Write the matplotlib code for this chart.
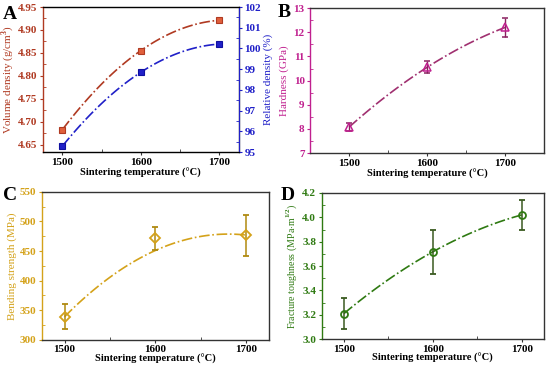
import numpy as np
import matplotlib
matplotlib.use('Agg')
import matplotlib.pyplot as plt
from matplotlib.ticker import MultipleLocator, FormatStrFormatter

plt.rcParams['font.family'] = ['Liberation Serif', 'DejaVu Serif']
plt.rcParams['font.weight'] = 'bold'
plt.rcParams['mathtext.fontset'] = 'custom'
plt.rcParams['mathtext.rm'] = 'Liberation Serif:bold'

# Data
temp = [1500, 1600, 1700]
vol_density = [4.683, 4.855, 4.921]
rel_density = [95.29, 98.85, 100.21]
hardness = [8.08, 10.55, 12.2]
hardness_err = [0.18, 0.25, 0.38]
bending = [339.4, 471.4, 476.5]
bending_err = [21, 20, 35]
bending_fit = [339, 451, 477]   # trend line values at 1500/1600/1700
toughness = [3.21, 3.717, 4.02]
toughness_err = [0.13, 0.18, 0.12]

c_red = '#b03a22'
c_blue = '#2020c8'
c_mag = '#c0208f'
c_gold = '#d4a21a'
c_green = '#2f7a12'

fig = plt.figure(figsize=(5.5, 3.69), dpi=100)


def style_axes(ax, col, xlim, ylim, ymaj, ymin, xlab_px):
    ax.set_xlim(xlim)
    ax.set_ylim(ylim)
    ax.xaxis.set_major_locator(MultipleLocator(100))
    ax.xaxis.set_minor_locator(MultipleLocator(50))
    ax.yaxis.set_major_locator(MultipleLocator(ymaj))
    ax.yaxis.set_minor_locator(MultipleLocator(ymin))
    ax.tick_params(which='major', direction='out', length=2.5, width=0.8, labelsize=8, pad=1.5)
    ax.tick_params(which='minor', direction='in', length=2, width=0.6)
    ax.tick_params(axis='y', which='both', colors=col, labelcolor=col)
    ax.tick_params(axis='x', which='both', colors='#333333', labelcolor='black')
    ax.spines['left'].set_color(col)
    for s in ['bottom', 'top', 'right']:
        ax.spines[s].set_color('#333333')
    for sp in ax.spines.values():
        sp.set_linewidth(1.0)
    ax.set_xlabel('Sintering temperature (°C)', fontsize=7.6, fontweight='bold')
    h_px = ax.get_position().height * fig.get_figheight() * fig.dpi
    ax.xaxis.label.set_va('center')
    ax.xaxis.set_label_coords(0.5, -xlab_px / h_px)


def quad_curve(x, y):
    p = np.polyfit(x, y, 2)
    xs = np.linspace(x[0], x[-1], 100)
    return xs, np.polyval(p, xs)


# Panel A
axA = fig.add_axes([0.078, 0.588, 0.356, 0.393])
style_axes(axA, c_red, (1475, 1725), (4.634, 4.95), 0.05, 0.025, 21)
axA.yaxis.set_major_formatter(FormatStrFormatter('%.2f'))
xs, ys = quad_curve(temp, vol_density)
axA.plot(xs, ys, ls='-.', c=c_red, lw=1.2)
axA.plot(temp, vol_density, 's', ms=4.5, mfc='#e0603c', mec=c_red, mew=0.8)
axA.set_ylabel('Volume density (g/cm$^3$)', color=c_red, fontsize=8, labelpad=1)
axA2 = axA.twinx()
axA2.set_ylim(95, 102)
axA2.yaxis.set_major_locator(MultipleLocator(1))
axA2.yaxis.set_minor_locator(MultipleLocator(0.5))
axA2.tick_params(which='major', direction='out', length=2.5, width=0.8, labelsize=8, pad=1.5,
                 colors=c_blue, labelcolor=c_blue)
axA2.tick_params(which='minor', direction='in', length=2, width=0.6, colors=c_blue)
axA2.spines['right'].set_color(c_blue)
axA2.spines['left'].set_visible(False)
xs, ys = quad_curve(temp, rel_density)
axA2.plot(xs, ys, ls='-.', c=c_blue, lw=1.2)
axA2.plot(temp, rel_density, 's', ms=4.5, mfc=c_blue, mec='#1010a0', mew=0.8)
axA2.set_ylabel('Relative density (%)', color=c_blue, fontsize=8, labelpad=2)

# Panel B
axB = fig.add_axes([0.564, 0.585, 0.425, 0.393])
style_axes(axB, c_mag, (1450, 1750), (7, 13), 1, 0.5, 21)
xs, ys = quad_curve(temp, hardness)
axB.plot(xs, ys, ls='-.', c='#a03070', lw=1.2)
axB.errorbar(temp, hardness, yerr=hardness_err, fmt='^', ms=6, mfc='none', mec=c_mag,
             mew=1.1, ecolor='#8a2060', elinewidth=1, capsize=2)
axB.set_ylabel('Hardness (GPa)', color=c_mag, fontsize=8, labelpad=3)

# Panel C
axC = fig.add_axes([0.076, 0.079, 0.413, 0.401])
style_axes(axC, c_gold, (1475, 1725), (300, 550), 50, 25, 19)
xs, ys = quad_curve(temp, bending_fit)
axC.plot(xs, ys, ls='-.', c=c_gold, lw=1.2)
axC.errorbar(temp, bending, yerr=bending_err, fmt='D', ms=5, mfc='none', mec=c_gold,
             mew=1.3, ecolor='#b08a10', elinewidth=1.1, capsize=2.5)
axC.set_ylabel('Bending strength (MPa)', color=c_gold, fontsize=8, labelpad=2)

# Panel D
axD = fig.add_axes([0.585, 0.081, 0.404, 0.396])
style_axes(axD, c_green, (1475, 1725), (3.0, 4.2), 0.2, 0.1, 19)
axD.yaxis.set_major_formatter(FormatStrFormatter('%.1f'))
xs, ys = quad_curve(temp, toughness)
axD.plot(xs, ys, ls='-.', c=c_green, lw=1.2)
axD.errorbar(temp, toughness, yerr=toughness_err, fmt='o', ms=5, mfc='none', mec=c_green,
             mew=1.3, ecolor='#3a5a20', elinewidth=1.1, capsize=2.5)
axD.set_ylabel('Fracture toughness (MPa$\\cdot$m$^{1/2}$)', color=c_green, fontsize=7.2, labelpad=2)

# Panel letters
for lab, x, y in [('A', 0.005, 0.985), ('B', 0.505, 0.988), ('C', 0.005, 0.492), ('D', 0.511, 0.494)]:
    fig.text(x, y, lab, fontsize=14, fontweight='bold', va='top', ha='left')

fig.savefig('out.png', dpi=100)
